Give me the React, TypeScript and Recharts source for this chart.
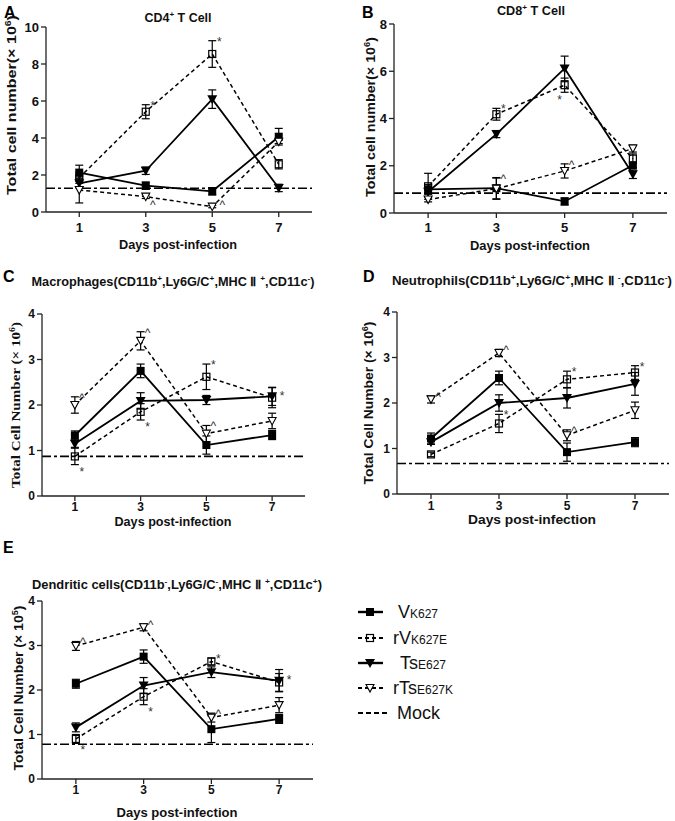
import React from 'react';
import { LineChart, Line, XAxis, YAxis, ErrorBar, ReferenceLine } from 'recharts';

const FONT = '"Liberation Sans", Arial, Helvetica, sans-serif';
const SERIF = '"Liberation Serif", "Times New Roman", serif';

const days = [1, 3, 5, 7];
const xTicks = [1, 3, 5, 7];

// A: CD4+ T cell (x10^6)
const vA = [2.13, 1.42, 1.12, 4.07];
const vAErr = [0.4, 0.2, 0.2, 0.45];
const rvA = [1.85, 5.42, 8.54, 2.58];
const rvAErr = [0.3, 0.38, 0.72, 0.25];
const tsA = [1.55, 2.23, 6.1, 1.3];
const tsAErr = [0.25, 0.2, 0.5, 0.2];
const rtsA = [1.19, 0.83, 0.29, 3.8];
const rtsAErr = [0.7, 0.1, 0.06, 0.1];
const mockA = 1.28;
const yTicksA = [0, 2, 4, 6, 8, 10];

// B: CD8+ T cell (x10^6)
const vB = [1.0, 1.05, 0.49, 2.02];
const vBErr = [0.2, 0.45, 0.15, 0.1];
const rvB = [1.13, 4.18, 5.41, 2.3];
const rvBErr = [0.55, 0.25, 0.3, 0.2];
const tsB = [0.9, 3.34, 6.12, 1.64];
const tsBErr = [0.1, 0.15, 0.52, 0.18];
const rtsB = [0.57, 1.03, 1.78, 2.73];
const rtsBErr = [0.1, 0.45, 0.3, 0.15];
const mockB = 0.84;
const yTicksB = [0, 2, 4, 6, 8];

// C: Macrophages (x10^6)
const vC = [1.33, 2.75, 1.12, 1.34];
const vCErr = [0.1, 0.15, 0.2, 0.1];
const rvC = [0.87, 1.85, 2.62, 2.16];
const rvCErr = [0.18, 0.18, 0.28, 0.22];
const tsC = [1.15, 2.09, 2.11, 2.19];
const tsCErr = [0.08, 0.18, 0.1, 0.2];
const rtsC = [2.0, 3.41, 1.37, 1.65];
const rtsCErr = [0.18, 0.2, 0.18, 0.17];
const mockC = 0.87;

// D: Neutrophils (x10^6)
const vD = [1.22, 2.55, 0.92, 1.14];
const vDErr = [0.12, 0.15, 0.2, 0.1];
const rvD = [0.87, 1.55, 2.52, 2.67];
const rvDErr = [0.05, 0.2, 0.18, 0.15];
const tsD = [1.14, 2.0, 2.11, 2.42];
const tsDErr = [0.05, 0.18, 0.22, 0.25];
const rtsD = [2.08, 3.1, 1.29, 1.84];
const rtsDErr = [0.08, 0.08, 0.12, 0.18];
const mockD = 0.67;

// E: Dendritic cells (x10^5)
const vE = [2.14, 2.75, 1.12, 1.35];
const vEErr = [0.1, 0.15, 0.3, 0.1];
const rvE = [0.9, 1.85, 2.64, 2.17];
const rvEErr = [0.1, 0.18, 0.08, 0.2];
const tsE = [1.16, 2.1, 2.4, 2.21];
const tsEErr = [0.1, 0.18, 0.12, 0.25];
const rtsE = [2.99, 3.41, 1.38, 1.66];
const rtsEErr = [0.1, 0.08, 0.1, 0.17];
const mockE = 0.78;
const yTicks4 = [0, 1, 2, 3, 4];

type Ann = { s: string; day: number; mark: string; at: string };
const annA: Ann[] = [
  { s: 'rv', day: 3, mark: '*', at: 'ur' },
  { s: 'rv', day: 5, mark: '*', at: 'ur' },
  { s: 'rts', day: 3, mark: '^', at: 'lr' },
  { s: 'rts', day: 5, mark: '^', at: 'r' },
];
const annB: Ann[] = [
  { s: 'rv', day: 3, mark: '*', at: 'ur' },
  { s: 'rv', day: 5, mark: '*', at: 'bl' },
  { s: 'rts', day: 3, mark: '^', at: 'ur' },
  { s: 'rts', day: 5, mark: '^', at: 'ur' },
];
const annC: Ann[] = [
  { s: 'rts', day: 1, mark: '^', at: 'ur' },
  { s: 'rts', day: 3, mark: '^', at: 'ur' },
  { s: 'rts', day: 5, mark: '^', at: 'ur' },
  { s: 'rv', day: 1, mark: '*', at: 'lr' },
  { s: 'rv', day: 3, mark: '*', at: 'lr' },
  { s: 'rv', day: 5, mark: '*', at: 'ur' },
  { s: 'rv', day: 7, mark: '*', at: 'r' },
];
const annD: Ann[] = [
  { s: 'rts', day: 1, mark: '^', at: 'ur' },
  { s: 'rts', day: 3, mark: '^', at: 'ur' },
  { s: 'rts', day: 5, mark: '^', at: 'ur' },
  { s: 'rv', day: 3, mark: '*', at: 'ur' },
  { s: 'rv', day: 5, mark: '*', at: 'ur' },
  { s: 'rv', day: 7, mark: '*', at: 'ur' },
];
const annE: Ann[] = [
  { s: 'rts', day: 1, mark: '^', at: 'ur' },
  { s: 'rts', day: 3, mark: '^', at: 'ur' },
  { s: 'rts', day: 5, mark: '^', at: 'ur' },
  { s: 'rv', day: 1, mark: '*', at: 'lr' },
  { s: 'rv', day: 3, mark: '*', at: 'lr' },
  { s: 'rv', day: 5, mark: '*', at: 'ur' },
  { s: 'rv', day: 7, mark: '*', at: 'r' },
];

type Seg = [string, boolean];
const titleA: Seg[] = [['CD4', false], ['+', true], [' T Cell', false]];
const titleB: Seg[] = [['CD8', false], ['+', true], [' T Cell', false]];
const titleC: Seg[] = [['Macrophages(CD11b', false], ['+', true], [',Ly6G/C', false], ['+', true], [',MHC Ⅱ ', false], ['+', true], [',CD11c', false], ['-', true], [')', false]];
const titleD: Seg[] = [['Neutrophils(CD11b', false], ['+', true], [',Ly6G/C', false], ['+', true], [',MHC Ⅱ ', false], ['-', true], [',CD11c', false], ['-', true], [')', false]];
const titleE: Seg[] = [['Dendritic cells(CD11b', false], ['-', true], [',Ly6G/C', false], ['-', true], [',MHC Ⅱ ', false], ['+', true], [',CD11c', false], ['+', true], [')', false]];
const yLabAB: Seg[] = [['Total cell number(× 10', false], ['6', true], [')', false]];
const yLab6: Seg[] = [['Total Cell Number (× 10', false], ['6', true], [')', false]];
const yLab5: Seg[] = [['Total Cell Number (× 10', false], ['5', true], [')', false]];
const xLabel = 'Days post-infection';

const legendItems = [
  { main: 'V', sub: 'K627', shape: 'fsq', dash: '' },
  { main: 'rV', sub: 'K627E', shape: 'osq', dash: '4 3' },
  { main: 'Ts', sub: 'E627', shape: 'ftri', dash: '' },
  { main: 'rTs', sub: 'E627K', shape: 'otri', dash: '4 3' },
  { main: 'Mock', sub: '', shape: '', dash: '5 3' },
];

function rowsOf(v: number[], ve: number[], rv: number[], rve: number[], ts: number[], tse: number[], rts: number[], rtse: number[]) {
  return days.map((day, i) => ({
    day, v: v[i], vErr: ve[i], rv: rv[i], rvErr: rve[i], ts: ts[i], tsErr: tse[i], rts: rts[i], rtsErr: rtse[i],
  }));
}

function marker(shape: string, cx: number, cy: number) {
  switch (shape) {
    case 'fsq':
      return <rect x={cx - 4} y={cy - 4} width={8} height={8} fill="#000" />;
    case 'osq':
      return <rect x={cx - 3.5} y={cy - 3.5} width={7} height={7} fill="none" stroke="#000" strokeWidth={1.2} />;
    case 'ftri':
      return <path d={`M${cx - 5},${cy - 4}L${cx + 5},${cy - 4}L${cx},${cy + 5}Z`} fill="#000" />;
    case 'otri':
      return <path d={`M${cx - 4},${cy - 3.5}L${cx + 4},${cy - 3.5}L${cx},${cy + 4}Z`} fill="#fff" stroke="#000" strokeWidth={1.1} />;
    default:
      return null;
  }
}

function annPos(at: string, cx: number, cy: number, e: number): [number, number] {
  switch (at) {
    case 'ur': return [cx + 7, cy - e - 2];
    case 'lr': return [cx + 7, cy + e + 4];
    case 'r': return [cx + 10, cy - 5];
    case 'bl': return [cx - 5, cy + e + 5];
    default: return [cx + 7, cy];
  }
}

const makeDot = (shape: string, series: string, anns: Ann[], pxPerUnit: number) => (p: any) => {
  const { cx, cy, index, payload } = p;
  if (cx == null || cy == null || isNaN(cx) || isNaN(cy)) return <g key={`e-${series}-${index}`} />;
  const ann = anns.find((a) => a.s === series && payload && a.day === payload.day);
  let annEl = null;
  if (ann) {
    const e = (payload[series + 'Err'] || 0) * pxPerUnit;
    const [ax, ay] = annPos(ann.at, cx, cy, e);
    annEl = (
      <text x={ax} y={ay + 7} textAnchor="middle" fontSize={12} fill="#333" fontFamily={FONT}>{ann.mark}</text>
    );
  }
  return (
    <g key={`d-${series}-${index}`}>
      {marker(shape, cx, cy)}
      {annEl}
    </g>
  );
};

function RichText(props: { x: number; y: number; segs: Seg[]; size: number; family?: string; weight?: string; rotate?: boolean; len?: number }) {
  const { x, y, segs, size, family = FONT, weight = 'bold', rotate = false, len } = props;
  const sup = size * 0.65;
  let shifted = false;
  const kids = segs.map(([t, s], i) => {
    let dy = 0;
    if (s && !shifted) { dy = -size * 0.4; shifted = true; }
    else if (!s && shifted) { dy = size * 0.4; shifted = false; }
    return (
      <tspan key={i} dy={dy !== 0 ? dy : undefined} fontSize={s ? sup : size}>{t}</tspan>
    );
  });
  return (
    <text
      x={x}
      y={y}
      textAnchor="middle"
      fontSize={size}
      fontWeight={weight}
      fontFamily={family}
      fill="#111"
      transform={rotate ? `rotate(-90 ${x} ${y})` : undefined}
      textLength={len}
      lengthAdjust="spacingAndGlyphs"
    >
      {kids}
    </text>
  );
}

type PanelCfg = {
  key: string; x0: number; y0: number; W: number; H: number;
  l: number; r: number; t: number; b: number; yMax: number; yTicks: number[]; tm: number; fs: number;
  rows: any[]; mock: number; anns: Ann[];
};

const panels: PanelCfg[] = [
  { key: 'A', x0: 0, y0: 0, W: 335, H: 255, l: 46, r: 312, t: 27, b: 212, yMax: 10, yTicks: yTicksA, tm: 6, fs: 13,
    rows: rowsOf(vA, vAErr, rvA, rvAErr, tsA, tsAErr, rtsA, rtsAErr), mock: mockA, anns: annA },
  { key: 'B', x0: 338, y0: 0, W: 337, H: 255, l: 394, r: 667, t: 24, b: 213, yMax: 8, yTicks: yTicksB, tm: 5, fs: 13,
    rows: rowsOf(vB, vBErr, rvB, rvBErr, tsB, tsBErr, rtsB, rtsBErr), mock: mockB, anns: annB },
  { key: 'C', x0: 0, y0: 258, W: 335, H: 272, l: 42, r: 305, t: 314, b: 496, yMax: 4, yTicks: yTicks4, tm: 1, fs: 12,
    rows: rowsOf(vC, vCErr, rvC, rvCErr, tsC, tsCErr, rtsC, rtsCErr), mock: mockC, anns: annC },
  { key: 'D', x0: 338, y0: 258, W: 337, H: 272, l: 397, r: 669, t: 312, b: 494, yMax: 4, yTicks: yTicks4, tm: 2, fs: 12,
    rows: rowsOf(vD, vDErr, rvD, rvDErr, tsD, tsDErr, rtsD, rtsDErr), mock: mockD, anns: annD },
  { key: 'E', x0: 0, y0: 545, W: 335, H: 276, l: 42, r: 313, t: 601, b: 779, yMax: 4, yTicks: yTicks4, tm: 1, fs: 12,
    rows: rowsOf(vE, vEErr, rvE, rvEErr, tsE, tsEErr, rtsE, rtsEErr), mock: mockE, anns: annE },
];

function Panel({ c }: { c: PanelCfg }) {
  const ppu = (c.b - c.t) / c.yMax;
  const tickStyle = { fill: '#111', fontSize: c.fs, fontWeight: 700, fontFamily: FONT };
  const series = [
    { k: 'v', shape: 'fsq', dash: undefined as string | undefined, w: 1.8 },
    { k: 'rv', shape: 'osq', dash: '4 3', w: 1.5 },
    { k: 'ts', shape: 'ftri', dash: undefined, w: 1.8 },
    { k: 'rts', shape: 'otri', dash: '4 3', w: 1.5 },
  ];
  return (
    <div style={{ position: 'absolute', left: c.x0, top: c.y0, width: c.W, height: c.H }}>
      <LineChart
        width={c.W}
        height={c.H}
        data={c.rows}
        margin={{ top: c.t - c.y0, right: c.x0 + c.W - c.r, left: 0, bottom: 0 }}
      >
        <XAxis
          type="number"
          dataKey="day"
          domain={[0, 8]}
          ticks={xTicks}
          interval={0}
          height={c.y0 + c.H - c.b}
          stroke="#222"
          strokeWidth={1.3}
          tickSize={5}
          tickMargin={c.tm}
          tick={tickStyle}
        />
        <YAxis
          type="number"
          domain={[0, c.yMax]}
          ticks={c.yTicks}
          interval={0}
          width={c.l - c.x0}
          stroke="#222"
          strokeWidth={1.3}
          tickSize={5}
          tickMargin={2}
          tick={tickStyle}
        />
        <ReferenceLine y={c.mock} stroke="#000" strokeWidth={1.6} strokeDasharray="9 3 3 3" />
        {series.map((s) => (
          <Line
            key={s.k}
            type="linear"
            dataKey={s.k}
            stroke="#000"
            strokeWidth={s.w}
            strokeDasharray={s.dash}
            isAnimationActive={false}
            activeDot={false}
            dot={makeDot(s.shape, s.k, c.anns, ppu)}
          >
            <ErrorBar dataKey={s.k + 'Err'} direction="y" width={4} stroke="#000" strokeWidth={1.2} isAnimationActive={false} />
          </Line>
        ))}
      </LineChart>
    </div>
  );
}

function Overlay() {
  const letter = (t: string, x: number, y: number) => (
    <text x={x} y={y} fontSize={16} fontWeight="bold" fontFamily={FONT} fill="#000">{t}</text>
  );
  const xl = (x: number, y: number, len: number) => (
    <text x={x} y={y} textAnchor="middle" fontSize={13} fontWeight="bold" fontFamily={FONT} fill="#111"
      textLength={len} lengthAdjust="spacingAndGlyphs">{xLabel}</text>
  );
  const legendX = [398, 393, 400, 393, 397];
  const legendY = [612, 638, 663, 688, 713];
  return (
    <svg width={675} height={821} style={{ position: 'absolute', left: 0, top: 0, pointerEvents: 'none' }}>
      {letter('A', 4, 18)}
      {letter('B', 362, 18)}
      {letter('C', 3, 282)}
      {letter('D', 363, 282)}
      {letter('E', 3, 553)}

      <RichText x={178} y={22} segs={titleA} size={12} len={67} />
      <RichText x={531} y={15} segs={titleB} size={12} len={68} />
      <RichText x={173} y={286} segs={titleC} size={12} len={283} />
      <RichText x={532} y={285} segs={titleD} size={12} len={280} />
      <RichText x={177} y={589} segs={titleE} size={12} len={290} />

      {xl(178, 249, 118)}
      {xl(530, 250, 120)}
      {xl(173, 526, 117)}
      {xl(532, 524, 128)}
      {xl(177, 817, 121)}

      <RichText x={16} y={105} segs={yLabAB} size={13} rotate len={180} />
      <RichText x={375} y={117} segs={yLabAB} size={13} rotate len={160} />
      <RichText x={20} y={405} segs={yLab6} size={13} rotate len={166} family={SERIF} />
      <RichText x={373} y={403} segs={yLab6} size={13} rotate len={163} />
      <RichText x={23} y={688} segs={yLab5} size={13} rotate len={165} />

      {legendItems.map((it, i) => {
        const y = legendY[i];
        const isMock = it.main === 'Mock';
        return (
          <g key={it.main}>
            <line x1={358} x2={isMock ? 389 : 383} y1={y} y2={y} stroke="#000" strokeWidth={it.dash ? 1.8 : 2.4}
              strokeDasharray={it.dash || undefined} />
            {marker(it.shape, 370, y)}
            <text x={legendX[i]} y={y + 6} fontSize={18} fontFamily={FONT} fill="#111">
              {it.main}
              {it.sub ? <tspan fontSize={12}>{it.sub}</tspan> : null}
            </text>
          </g>
        );
      })}
    </svg>
  );
}

export default function App() {
  return (
    <div style={{ position: 'absolute', left: 0, top: 0, width: 675, height: 821, background: '#fff', overflow: 'hidden' }}>
      {panels.map((c) => (
        <Panel key={c.key} c={c} />
      ))}
      <Overlay />
    </div>
  );
}
